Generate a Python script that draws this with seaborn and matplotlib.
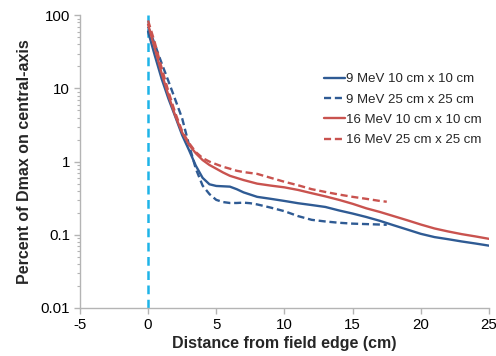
import matplotlib
matplotlib.use("Agg")
import matplotlib.pyplot as plt
import seaborn as sns
import pandas as pd
from matplotlib.ticker import LogLocator, FixedLocator, NullFormatter

# Off-axis dose profiles outside the field edge (percent of Dmax)
x_9_10 = [0, 0.5, 1, 1.5, 2, 2.5, 3, 3.5, 4, 4.5, 5, 5.5, 6, 6.5, 7, 8, 9, 10,
          11, 12, 13, 14, 15, 16, 17, 18, 19, 20, 21, 22, 23, 24, 25]
y_9_10 = [60, 28, 13.5, 7.2, 4.1, 2.3, 1.44, 0.88, 0.6, 0.49, 0.465, 0.46, 0.455,
          0.42, 0.38, 0.33, 0.31, 0.29, 0.27, 0.255, 0.24, 0.215, 0.195, 0.175,
          0.155, 0.135, 0.118, 0.103, 0.093, 0.087, 0.081, 0.076, 0.071]

x_9_25 = [0, 0.5, 1, 1.5, 2, 2.5, 3, 3.5, 4, 4.5, 5, 5.5, 6, 6.5, 7, 7.5, 8, 9,
          10, 11, 12, 13, 14, 15, 16, 17, 17.5]
y_9_25 = [70, 40, 22, 12.5, 7.0, 3.9, 1.7, 0.8, 0.47, 0.36, 0.30, 0.28, 0.272,
          0.272, 0.275, 0.27, 0.26, 0.235, 0.21, 0.18, 0.16, 0.152, 0.146, 0.142,
          0.14, 0.138, 0.137]

x_16_10 = [0, 0.5, 1, 1.5, 2, 2.5, 3, 3.5, 4, 4.5, 5, 5.5, 6, 7, 8, 9, 10, 11,
           12, 13, 14, 15, 16, 17, 18, 19, 20, 21, 22, 23, 24, 25]
y_16_10 = [75, 35, 16, 8, 4.2, 2.5, 1.7, 1.3, 1.05, 0.9, 0.8, 0.71, 0.64, 0.56,
           0.5, 0.47, 0.445, 0.41, 0.37, 0.335, 0.30, 0.265, 0.23, 0.205, 0.18,
           0.158, 0.138, 0.122, 0.111, 0.102, 0.095, 0.088]

x_16_25 = [0, 0.5, 1, 1.5, 2, 2.5, 3, 3.5, 4, 4.5, 5, 5.5, 6, 6.5, 7, 8, 9, 10,
           11, 12, 13, 14, 15, 16, 17, 17.5]
y_16_25 = [85, 42, 19, 9, 4.6, 2.6, 1.8, 1.35, 1.12, 1.0, 0.92, 0.85, 0.8, 0.75,
           0.72, 0.68, 0.6, 0.53, 0.475, 0.42, 0.385, 0.355, 0.33, 0.31, 0.29,
           0.283]

labels = ["9 MeV 10 cm x 10 cm", "9 MeV 25 cm x 25 cm",
          "16 MeV 10 cm x 10 cm", "16 MeV 25 cm x 25 cm"]
blue = "#2F5B94"
red = "#C9534F"
edge_color = "#1EB4E8"

x_ticks = [-5, 0, 5, 10, 15, 20, 25]
y_ticks = [0.01, 0.1, 1, 10, 100]
y_tick_labels = ["0.01", "0.1", "1", "10", "100"]

sns.set_theme(style="white")
plt.rcParams["font.family"] = ["Liberation Sans", "DejaVu Sans"]

fig = plt.figure(figsize=(4.96, 3.56), dpi=100)
ax = fig.add_axes([0.161, 0.135, 0.825, 0.822])

series = [
    (x_9_10, y_9_10, labels[0], blue, "-"),
    (x_9_25, y_9_25, labels[1], blue, (0, (3, 1.6))),
    (x_16_10, y_16_10, labels[2], red, "-"),
    (x_16_25, y_16_25, labels[3], red, (0, (3, 1.6))),
]
for xs, ys, lab, col, ls in series:
    df = pd.DataFrame({"x": xs, "y": ys})
    sns.lineplot(data=df, x="x", y="y", ax=ax, color=col, linestyle=ls,
                 linewidth=1.7, label=lab)

# field edge marker
ax.plot([0, 0], [0.01, 100], color=edge_color, linestyle=(0, (3.5, 2.2)),
        linewidth=1.8, zorder=1)

ax.set_yscale("log")
ax.set_xlim(-5, 25)
ax.set_ylim(0.01, 100)
ax.xaxis.set_major_locator(FixedLocator(x_ticks))
ax.set_xticklabels([str(t) for t in x_ticks])
ax.yaxis.set_major_locator(FixedLocator(y_ticks))
ax.set_yticklabels(y_tick_labels)
ax.yaxis.set_minor_locator(LogLocator(base=10, subs=range(2, 10)))
ax.yaxis.set_minor_formatter(NullFormatter())

spine_col = "#B4B4B4"
for s in ["top", "right"]:
    ax.spines[s].set_visible(False)
for s in ["left", "bottom"]:
    ax.spines[s].set_color(spine_col)
    ax.spines[s].set_linewidth(1.0)
ax.tick_params(axis="both", which="major", direction="out", length=4,
               width=1.0, color=spine_col, labelsize=10.8, labelcolor="black",
               pad=3)
ax.tick_params(axis="y", which="minor", direction="out", length=2.5,
               width=0.8, color=spine_col, left=True)
ax.tick_params(axis="x", bottom=True)
ax.tick_params(axis="y", left=True)

ax.set_xlabel("Distance from field edge (cm)", fontsize=11.5,
              fontweight="bold", labelpad=3)
ax.set_ylabel("Percent of Dmax on central-axis", fontsize=11.5,
              fontweight="bold", labelpad=6)
ax.grid(False)

leg = ax.legend(loc="upper left", bbox_to_anchor=(0.583, 0.821), frameon=False,
                fontsize=9.5, handlelength=1.6, handletextpad=0.1,
                labelspacing=0.62, borderaxespad=0)

fig.savefig("out.png", dpi=100)
